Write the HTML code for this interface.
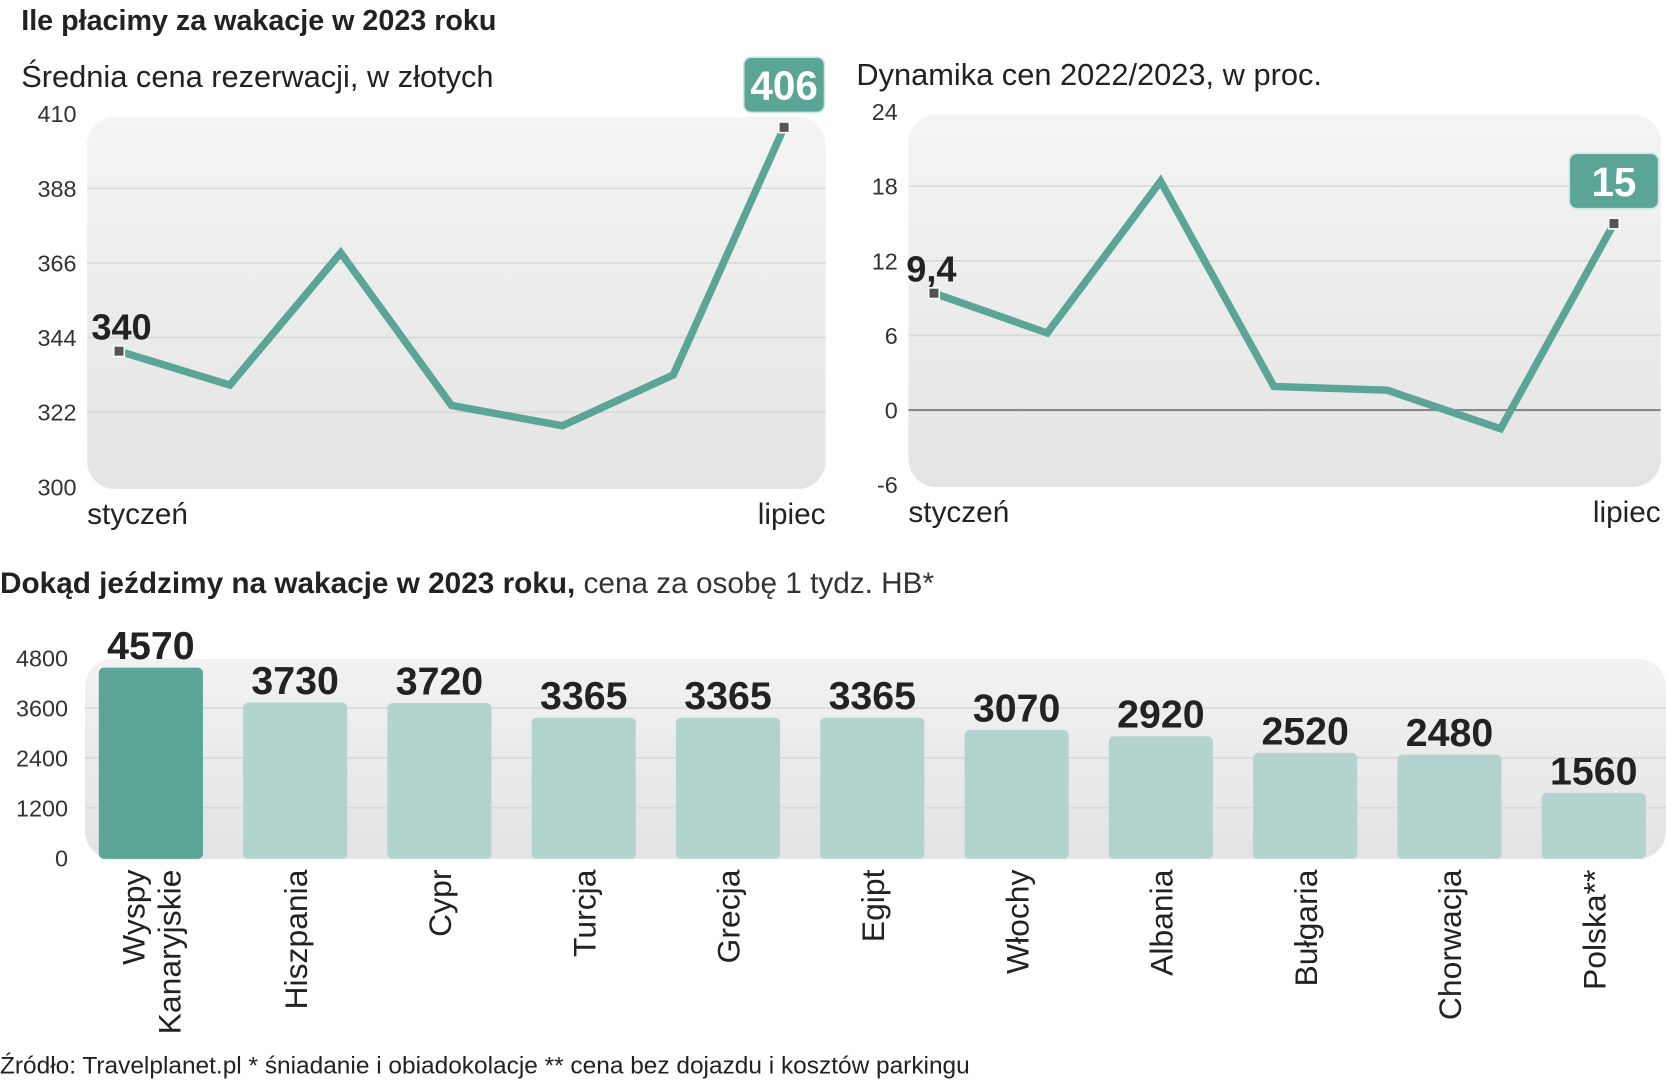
<!DOCTYPE html>
<html><head><meta charset="utf-8"><style>
html,body{margin:0;padding:0;background:#fff;width:1666px;height:1080px;overflow:hidden}
svg{display:block}
text{font-family:"Liberation Sans",sans-serif;fill:#222}
.tick{font-size:22px;fill:#333;font-weight:300}
.nb{font-family:"Liberation Sans Narrow","Liberation Sans",sans-serif;font-weight:bold}
</style></head><body>
<svg id="s" width="1666" height="1080" viewBox="0 0 1568 1016" preserveAspectRatio="none">
<defs>
<linearGradient id="pg" x1="0" y1="0" x2="0" y2="1"><stop offset="0" stop-color="#f4f4f4"/><stop offset="1" stop-color="#e4e4e4"/></linearGradient>
<linearGradient id="bg" x1="0" y1="0" x2="0" y2="1"><stop offset="0" stop-color="#f2f2f2"/><stop offset="1" stop-color="#e3e3e3"/></linearGradient>
</defs>
<text x="20" y="28" font-size="27" font-weight="bold">Ile płacimy za wakacje w 2023 roku</text>
<text x="20" y="82" font-size="29" font-weight="300" fill="#333">Średnia cena rezerwacji, w złotych</text>
<text x="806" y="80" font-size="29" font-weight="300" fill="#333">Dynamika cen 2022/2023, w proc.</text>
<rect x="82" y="110" width="695" height="350" rx="26" fill="url(#pg)"/>
<rect x="855" y="108" width="708" height="350" rx="26" fill="url(#pg)"/>
<rect x="80" y="620" width="1488" height="188" rx="26" fill="url(#bg)"/>
<g id="g1"></g><g id="g2"></g><g id="g3"></g>
<text x="0" y="558" font-size="28"><tspan font-weight="bold">Dokąd jeździmy na wakacje w 2023 roku,</tspan><tspan font-weight="300" fill="#333"> cena za osobę 1 tydz. HB*</tspan></text>
<text x="0" y="1010" font-size="23" font-weight="300" fill="#333">Źródło: Travelplanet.pl * śniadanie i obiadokolacje ** cena bez dojazdu i kosztów parkingu</text>
</svg>
<script>
const NS="http://www.w3.org/2000/svg";
const priceValues=[340,330,369,324,318,333,406];
const priceTicks=[410,388,366,344,322,300];
const dynValues=[9.4,6.2,18.4,1.9,1.6,-1.5,15];
const dynTicks=[24,18,12,6,0,-6];
const monthLabels=["styczeń","","","","","","lipiec"];
const countries=["Wyspy Kanaryjskie","Hiszpania","Cypr","Turcja","Grecja","Egipt","Włochy","Albania","Bułgaria","Chorwacja","Polska**"];
const prices=[4570,3730,3720,3365,3365,3365,3070,2920,2520,2480,1560];
const barTicks=[4800,3600,2400,1200,0];
function el(p,t,a,txt){const e=document.createElementNS(NS,t);for(const k in a)e.setAttribute(k,a[k]);if(txt!==undefined)e.textContent=txt;p.appendChild(e);return e;}
function lineChart(g,vals,ticks,min,max,yTop,yBot,x0,x1,panelL,panelR,labL,first,last,boxW,zero){
  const y=v=>yBot-(v-min)/(max-min)*(yBot-yTop);
  const x=i=>x0+(x1-x0)*i/(vals.length-1);
  ticks.forEach(t=>{
    if(t!==min&&t!==max){const l=el(g,"line",{x1:panelL,x2:panelR,y1:y(t),y2:y(t),stroke:(zero&&t===0)?"#888":"#d8d8d8","stroke-width":(zero&&t===0)?2:1.5});
      
      }
    const tx=el(g,"text",{x:labL,y:y(t)+8,"text-anchor":"end",class:"tick"},String(t));
    
    
  });
  const pts=vals.map((v,i)=>x(i)+","+y(v)).join(" ");
  const pl=el(g,"polyline",{points:pts,fill:"none",stroke:"#5aa596","stroke-width":7,"stroke-linejoin":"miter"});
  
  
  [0,vals.length-1].forEach(i=>{const m=el(g,"rect",{x:x(i)-5,y:y(vals[i])-5,width:10,height:10,fill:"#555",stroke:"#fff","stroke-width":1.5});
    
    });
  const fl=el(g,"text",{x:x(0)-26+(zero?0:0),y:y(vals[0])-11,"font-size":34,class:"nb"},first);
  
  
  const lx=x(vals.length-1),ly=y(vals[vals.length-1]);
  const b=el(g,"rect",{x:lx-boxW/2,y:ly-66,width:boxW,height:52,rx:7,fill:"#5aa596",stroke:"#cfe6e1","stroke-width":1.5});
  
  
  const lt=el(g,"text",{x:lx,y:ly-26,"text-anchor":"middle","font-size":38,class:"nb",style:"fill:#fff"},last);
  
  
  const a=el(g,"text",{x:panelL,y:yBot+35,"font-size":28},monthLabels[0]);
  
  
  const c=el(g,"text",{x:panelR,y:yBot+35,"font-size":28,"text-anchor":"end"},monthLabels[6]);
  
  
}
lineChart(document.getElementById("g1"),priceValues,priceTicks,300,410,107,458,112,738,82,777,72,String(priceValues[0]),String(priceValues[6]),76,false);
lineChart(document.getElementById("g2"),dynValues,dynTicks,-6,24,105,456,879,1519,855,1563,845,String(dynValues[0]).replace(".",","),String(dynValues[6]),84,true);
const g3=document.getElementById("g3");
const by=v=>807-v/4800*188;
barTicks.forEach(t=>{
  if(t!==0&&t!==4800){const l=el(g3,"line",{x1:80,x2:1568,y1:by(t),y2:by(t),stroke:"#d8d8d8","stroke-width":1.5});
    
    }
  const tx=el(g3,"text",{x:64,y:by(t)+8,"text-anchor":"end",class:"tick"},String(t));
  
  
});
countries.forEach((c,i)=>{
  const cx=142+i*135.8;
  const r=el(g3,"rect",{x:cx-49,y:by(prices[i]),width:98,height:807-by(prices[i])+1,rx:5,fill:i===0?"#5aa596":"#b3d4ce"});
  
  
  const v=el(g3,"text",{x:cx,y:by(prices[i])-8,"text-anchor":"middle","font-size":37,class:"nb"},String(prices[i]));
  
  
  const parts=c.split(" ");
  const t=el(g3,"text",{transform:`translate(${cx},818) rotate(-90)`,"text-anchor":"end","font-size":30,"font-weight":300},"");
  
  
  parts.forEach((p,j)=>{el(t,"tspan",{x:0,y:(j-(parts.length-1)/2)*34+11},p);});
});
</script>
</body></html>
